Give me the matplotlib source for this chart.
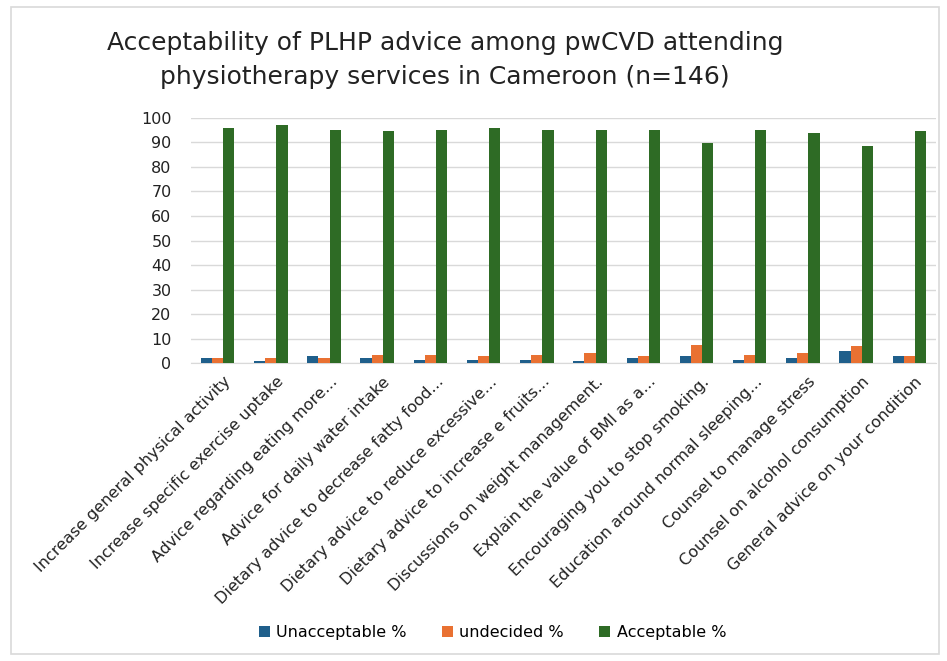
import matplotlib.pyplot as plt
import numpy as np
from matplotlib.patches import Rectangle

categories = [
    "Increase general physical activity",
    "Increase specific exercise uptake",
    "Advice regarding eating more...",
    "Advice for daily water intake",
    "Dietary advice to decrease fatty food...",
    "Dietary advice to reduce excessive...",
    "Dietary advice to increase e fruits...",
    "Discussions on weight management.",
    "Explain the value of BMI as a...",
    "Encouraging you to stop smoking.",
    "Education around normal sleeping...",
    "Counsel to manage stress",
    "Counsel on alcohol consumption",
    "General advice on your condition",
]
unacceptable = [2.1, 0.7, 2.7, 2.1, 1.4, 1.4, 1.4, 0.7, 2.1, 2.7, 1.4, 2.1, 4.8, 2.7]
undecided = [2.1, 2.1, 2.1, 3.4, 3.4, 2.7, 3.4, 4.1, 2.7, 7.5, 3.4, 4.1, 6.8, 2.7]
acceptable = [95.9, 97.3, 95.2, 94.5, 95.2, 95.9, 95.2, 95.2, 95.2, 89.7, 95.2, 93.8, 88.4, 94.5]

series_names = ["Unacceptable %", "undecided %", "Acceptable %"]
colors = ["#1F5F8B", "#E97132", "#2E6B25"]

fig = plt.figure(figsize=(9.47, 6.61), dpi=100)
ax = fig.add_axes([0.2017, 0.4508, 0.7866, 0.3707])

# light frame around the whole chart
fig.patches.append(Rectangle((0.012, 0.01), 0.98, 0.98, transform=fig.transFigure,
                             fill=False, edgecolor="#D9D9D9", linewidth=1.2))

x = np.arange(len(categories))
w = 0.21
for i, (vals, name, col) in enumerate(zip([unacceptable, undecided, acceptable], series_names, colors)):
    ax.bar(x + (i - 1) * w, vals, w, color=col, label=name, zorder=3)

ax.set_xlim(-0.5, len(categories) - 0.5)
ax.set_ylim(0, 100)
ax.set_yticks(range(0, 101, 10))
ax.grid(axis="y", color="#D9D9D9", linewidth=1, zorder=0)
for s in ["top", "right", "left"]:
    ax.spines[s].set_visible(False)
ax.spines["bottom"].set_color("#D9D9D9")
ax.tick_params(length=0, labelsize=11.5, colors="#222222")
ax.tick_params(axis="y", pad=14)
ax.tick_params(axis="x", pad=8)
ax.set_xticks(x + 0.1)
ax.set_xticklabels(categories, rotation=45, ha="right", va="top", rotation_mode="anchor",
                   fontsize=11.5)

fig.text(0.47, 0.909, "Acceptability of PLHP advice among pwCVD attending\nphysiotherapy services in Cameroon (n=146)",
         ha="center", va="center", fontsize=18, linespacing=1.5, color="#222222")

fig.legend(loc="center", bbox_to_anchor=(0.52, 0.043), ncol=3, frameon=False,
           fontsize=11.5, handlelength=0.7, handleheight=0.7, columnspacing=2.2,
           handletextpad=0.4)

plt.savefig("out.png", dpi=100)
